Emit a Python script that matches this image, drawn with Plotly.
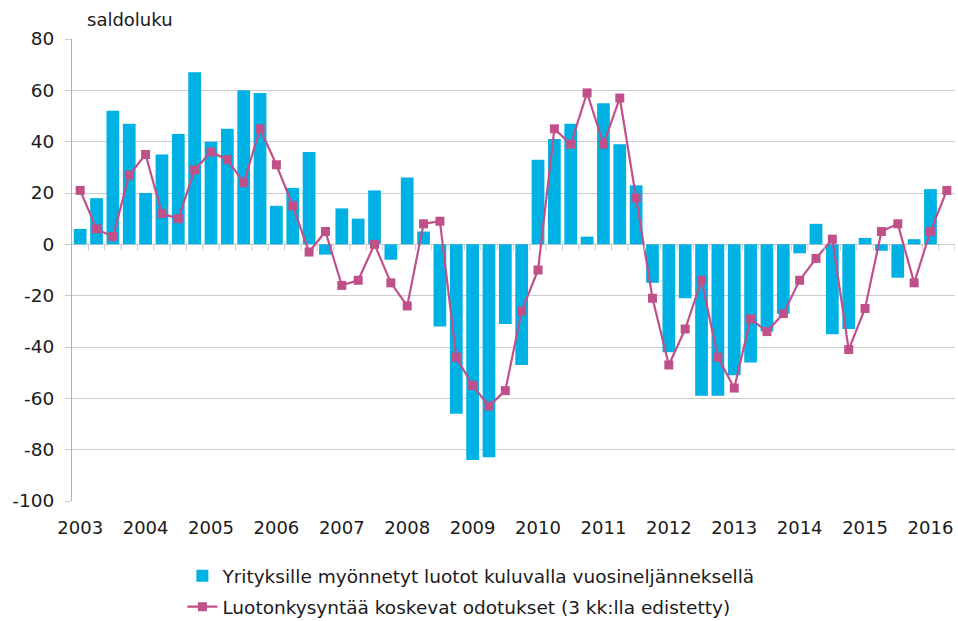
import plotly.graph_objects as go

years = [str(y) for y in range(2003, 2017)]
# quarterly positions 2003Q1 .. 2016Q2 (54 quarters)
n_quarters = 54
quarters = list(range(n_quarters))

bar_values = [6, 18, 52, 47, 20, 35, 43, 67, 40, 45, 60, 59, 15, 22, 36, -4,
              14, 10, 21, -6, 26, 5, -32, -66, -84, -83, -31, -47, 33, 41, 47, 3,
              55, 39, 23, -15, -42, -21, -59, -59, -51, -46, -34, -27, -3.5, 8,
              -35, -33, 2.5, -2.5, -13, 2, 21.5]

line_values = [21, 6, 3, 27, 35, 12, 10, 29, 36, 33, 24, 45, 31, 15, -3, 5,
               -16, -14, 0, -15, -24, 8, 9, -44, -55, -63, -57, -26, -10, 45, 39, 59,
               39, 57, 18, -21, -47, -33, -14, -44, -56, -29, -34, -27, -14, -5.5, 2,
               -41, -25, 5, 8, -15, 5, 21]

bar_name = "Yrityksille myönnetyt luotot kuluvalla vuosineljänneksellä"
line_name = "Luotonkysyntää koskevat odotukset (3 kk:lla edistetty)"
y_ticks = list(range(-100, 81, 20))
y_ticktext = [str(v) for v in y_ticks]
year_pos = [i * 4 for i in range(len(years))]

font = "DejaVu Sans, Verdana, sans-serif"

fig = go.Figure()
fig.add_trace(go.Bar(
    x=quarters[:len(bar_values)], y=bar_values, name=bar_name,
    legendgroup="a",
    marker=dict(color="#00B2E3", line=dict(width=0)),
))
fig.add_trace(go.Scatter(
    x=quarters[:len(line_values)], y=line_values, name=line_name,
    legendgroup="b",
    mode="lines+markers",
    line=dict(color="#C0508A", width=2.2),
    marker=dict(symbol="square", size=9, color="#C0508A"),
))

fig.update_layout(
    width=958, height=621,
    margin=dict(l=72, r=3, t=39, b=120, autoexpand=False),
    paper_bgcolor="white", plot_bgcolor="white",
    font=dict(family=font, size=17, color="#1a1a1a"),
    bargap=0.22,
    showlegend=True,
    legend=dict(
        orientation="v", x=0.125, xanchor="left", y=-0.1215, yanchor="top",
        font=dict(size=18.5, family=font, color="#1a1a1a"),
        traceorder="grouped", tracegroupgap=4, itemwidth=30,
    ),
    xaxis=dict(
        range=[-0.5, n_quarters - 0.5],
        tickmode="array", tickvals=year_pos, ticktext=years,
        showgrid=False, zeroline=False, showline=False,
        ticks="outside", ticklen=10, tickcolor="rgba(0,0,0,0)",
        tickfont=dict(size=18),
    ),
    yaxis=dict(
        range=[-100, 80],
        tickmode="array", tickvals=y_ticks, ticktext=y_ticktext,
        showgrid=True, gridcolor="#cccccc", gridwidth=1.2,
        zeroline=True, zerolinecolor="#cccccc", zerolinewidth=1.2,
        showline=True, linecolor="#b0b0b0", linewidth=1,
        ticks="outside", ticklen=6, tickcolor="#cccccc",
        ticklabelstandoff=7,
        tickfont=dict(size=18.5),
    ),
    annotations=[dict(
        text="saldoluku", xref="paper", yref="paper",
        x=0.015, y=1.0, xanchor="left", yanchor="bottom", yshift=7,
        showarrow=False, font=dict(size=18, family=font, color="#1a1a1a"),
    )],
)

# minor tick marks on the zero line between quarters
shapes = []
for i in range(n_quarters):
    shapes.append(dict(type="line", xref="x", yref="y",
                       x0=i + 0.5, x1=i + 0.5, y0=0, y1=-2.5,
                       line=dict(color="#cccccc", width=1)))
fig.update_layout(shapes=shapes)

fig.write_html("out.html",
               config={"displayModeBar": False},
               post_script="document.body.style.margin='0px';document.body.style.overflow='hidden';")
